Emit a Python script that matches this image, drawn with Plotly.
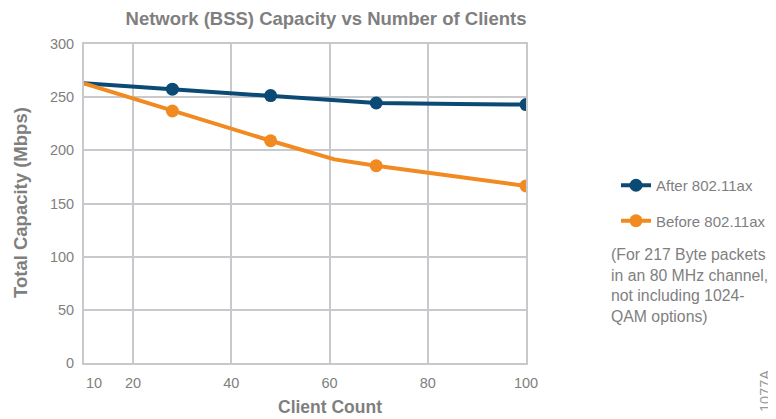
import plotly.graph_objects as go

# ---- data ----
after_x = [10, 28, 48, 69.5, 86, 100]
after_y = [263, 257.5, 251.5, 244.5, 243.5, 243]
after_marker = [False, True, True, True, False, True]

before_x = [10, 28, 48, 61, 69.5, 100]
before_y = [263, 237, 209, 191.5, 185.5, 166.5]
before_marker = [False, True, True, False, True, True]

x_ticks = [10, 20, 40, 60, 80, 100]
x_tick_labels = ["\u00a0\u00a0\u00a0\u00a0\u00a010", "20", "40", "60", "80", "100"]
y_ticks = [0, 50, 100, 150, 200, 250, 300]

series_names = ["After 802.11ax", "Before 802.11ax"]
title_text = "Network (BSS) Capacity vs Number of Clients"
x_title = "Client Count"
y_title = "Total Capacity (Mbps)"
note_lines = ["(For 217 Byte packets", "in an 80 MHz channel,", "not including 1024-", "QAM options)"]
figure_id = "1077A"

BLUE = "#0B4A75"
ORANGE = "#F28A22"
GRID = "#C8C9CD"
TEXT = "#7F7F7F"
FONT = "Liberation Sans, Arial, sans-serif"

# page has an 8px body margin: figure is sized/positioned to compensate
OFF = 8
W, H = 776 - OFF, 419 - OFF
L, R, T, B = 84, 526, 44, 363  # plot area in screen pixels
fig = go.Figure()

for xs, ys, mask, color, name in [
    (after_x, after_y, after_marker, BLUE, series_names[0]),
    (before_x, before_y, before_marker, ORANGE, series_names[1]),
]:
    fig.add_trace(go.Scatter(x=xs, y=ys, mode="lines", line=dict(color=color, width=4),
                             showlegend=False, hoverinfo="skip"))
    mx = [x for x, m in zip(xs, mask) if m]
    my = [y for y, m in zip(ys, mask) if m]
    fig.add_trace(go.Scatter(x=mx, y=my, mode="markers", marker=dict(color=color, size=13),
                             showlegend=False))

# legend entries
for color, name in [(BLUE, series_names[0]), (ORANGE, series_names[1])]:
    fig.add_trace(go.Scatter(x=[None], y=[None], mode="lines+markers", name=name,
                             line=dict(color=color, width=4), marker=dict(color=color, size=13),
                             legendgroup=name))

plot_w = R - L
plot_h = B - T


def px(x):
    return (x - L) / plot_w


def py(y):
    return (B - y) / plot_h


fig.update_layout(
    width=W, height=H,
    margin=dict(l=L - OFF, r=W - (R - OFF), t=T - OFF, b=H - (B - OFF), autoexpand=False),
    paper_bgcolor="white", plot_bgcolor="white",
    font=dict(family=FONT, size=14, color=TEXT),
    title=dict(text="<b>" + title_text + "</b>", x=(326 - OFF) / W, xref="container", xanchor="center",
               y=1 - (19 - OFF) / H, yref="container", yanchor="middle",
               font=dict(size=18.5, color=TEXT, family=FONT)),
    showlegend=True,
    legend=dict(x=px(616), xanchor="left", y=py(169), yanchor="top",
                font=dict(size=15, color=TEXT),
                traceorder="grouped", tracegroupgap=13, bgcolor="rgba(0,0,0,0)"),
)

fig.update_xaxes(range=[10, 100], tickvals=x_ticks, ticktext=x_tick_labels,
                 showgrid=True, gridcolor=GRID, gridwidth=2, zeroline=False,
                 showline=True, linecolor=GRID, linewidth=2, mirror=True,
                 ticks="outside", ticklen=6, tickcolor="rgba(0,0,0,0)",
                 tickfont=dict(size=14.5, color=TEXT))
fig.update_yaxes(range=[0, 300], tickvals=y_ticks,
                 showgrid=True, gridcolor=GRID, gridwidth=2, zeroline=False,
                 showline=True, linecolor=GRID, linewidth=2, mirror=True,
                 ticks="outside", ticklen=5, tickcolor="rgba(0,0,0,0)",
                 tickfont=dict(size=14.5, color=TEXT))

# axis titles
fig.add_annotation(text="<b>" + x_title + "</b>", xref="paper", yref="paper",
                   x=px(330), y=py(407), xanchor="center", yanchor="middle",
                   showarrow=False, font=dict(size=17.5, color=TEXT, family=FONT))
fig.add_annotation(text="<b>" + y_title + "</b>", xref="paper", yref="paper",
                   x=px(20), y=py(203), xanchor="center", yanchor="middle",
                   textangle=-90, showarrow=False, font=dict(size=18.5, color=TEXT, family=FONT))

# note
fig.add_annotation(text="<br>".join(note_lines), xref="paper", yref="paper",
                   x=px(609), y=py(244), xanchor="left", yanchor="top",
                   align="left", showarrow=False, font=dict(size=15.8, color=TEXT, family=FONT))

# figure id
fig.add_annotation(text=figure_id, xref="paper", yref="paper",
                   x=px(765), y=py(391), xanchor="center", yanchor="middle",
                   textangle=-90, showarrow=False, font=dict(size=14.5, color="#9A9A9A", family=FONT))

fig.write_html("out.html")
